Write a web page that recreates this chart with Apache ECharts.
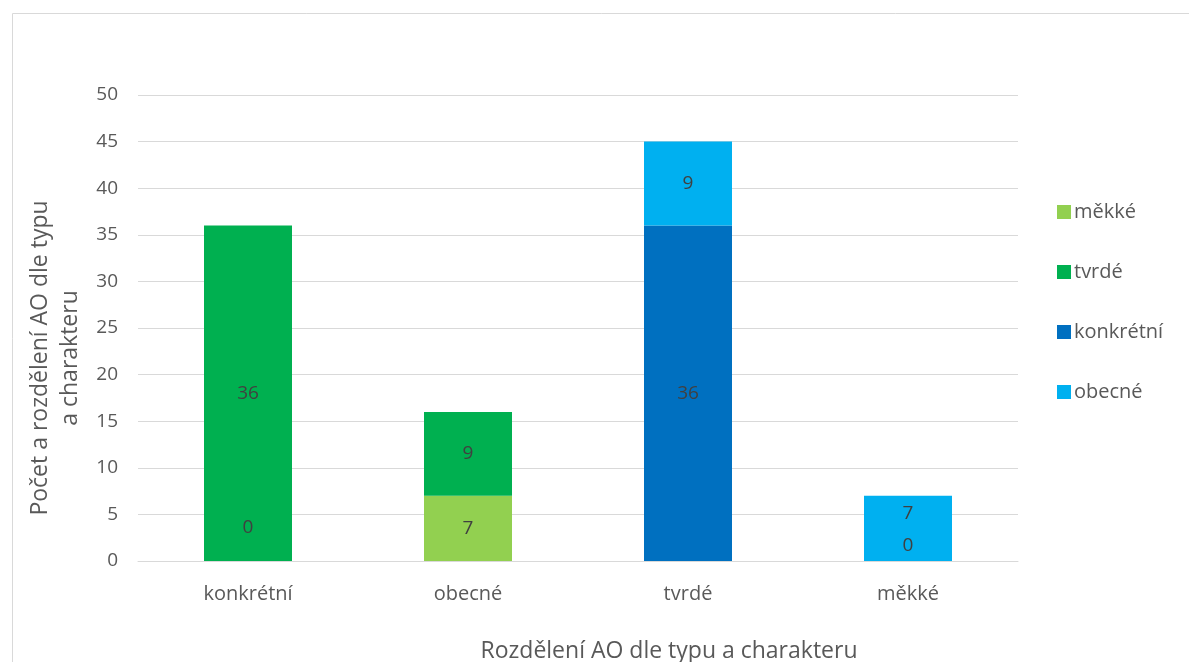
<!DOCTYPE html>
<html>
<head>
<meta charset="utf-8">
<script src="https://cdn.jsdelivr.net/npm/echarts@6/dist/echarts.min.js"></script>
<style>
  html, body { margin: 0; padding: 0; background: #fff; }
  #chart { width: 1189px; height: 662px; }
</style>
</head>
<body>
<div id="chart"></div>
<script>
// Categories on the x axis
const categories = ['konkrétní', 'obecné', 'tvrdé', 'měkké'];
// Stacked series values (null = no segment in that column)
const mekke = [0, 7, null, null];
const tvrde = [36, 9, null, null];
const konkretni = [null, null, 36, 0];
const obecne = [null, null, 9, 7];
// Value axis ticks
const yMin = 0, yMax = 50, yStep = 5;

const FONT = '"Open Sans", Lato, sans-serif';
const labelStyle = { show: true, position: 'inside', color: '#404040', fontSize: 19, fontFamily: FONT };

// Lift overlapping labels slightly so they stay readable
function withOffsets(values, offsets) {
  return values.map((v, i) => {
    if (v === null) return v;
    if (offsets[i]) return { value: v, label: { offset: [0, offsets[i]] } };
    return v;
  });
}

const series = [
  { name: 'měkké', color: '#92D050', data: withOffsets(mekke, [-33, 0, 0, 0]) },
  { name: 'tvrdé', color: '#00B050', data: tvrde },
  { name: 'konkrétní', color: '#0070C0', data: withOffsets(konkretni, [0, 0, 0, -15]) },
  { name: 'obecné', color: '#00B0F0', data: withOffsets(obecne, [0, 0, 0, -15]) }
].map(s => ({
  name: s.name,
  type: 'bar',
  stack: 'total',
  barWidth: '40%',
  itemStyle: { color: s.color },
  label: labelStyle,
  data: s.data
}));

const chart = echarts.init(document.getElementById('chart'));
chart.setOption({
  animation: false,
  textStyle: { fontFamily: FONT },
  graphic: [{
    type: 'rect',
    shape: { x: 12.5, y: 13.5, width: 1200, height: 700 },
    style: { fill: 'none', stroke: '#d9d9d9', lineWidth: 1 },
    silent: true
  }],
  title: {
    text: 'Rozdělení AO dle typu a charakteru',
    left: 664, top: 635, textAlign: 'center',
    textStyle: { fontSize: 23, fontWeight: 'normal', color: '#595959', fontFamily: FONT }
  },
  legend: {
    orient: 'vertical',
    left: 1052, top: 197,
    itemWidth: 14, itemHeight: 14, itemGap: 40,
    icon: 'rect',
    textStyle: { fontSize: 20, color: '#595959', fontFamily: FONT, padding: [0, 0, 0, -2] },
    data: ['měkké', 'tvrdé', 'konkrétní', 'obecné']
  },
  grid: { left: 138, right: 171, top: 95, bottom: 101 },
  xAxis: {
    type: 'category',
    data: categories,
    axisTick: { show: false },
    axisLine: { show: true, lineStyle: { color: '#d9d9d9' } },
    axisLabel: { color: '#595959', fontSize: 20, margin: 23 }
  },
  yAxis: {
    type: 'value',
    min: yMin, max: yMax, interval: yStep,
    name: 'Počet a rozdělení AO dle typu\na charakteru',
    nameLocation: 'middle',
    nameGap: 51,
    nameRotate: 90,
    nameTextStyle: { fontSize: 23, color: '#595959', lineHeight: 30, fontFamily: FONT, padding: [0, 60, 0, 0] },
    axisLine: { show: false },
    axisTick: { show: false },
    axisLabel: { color: '#595959', fontSize: 19, margin: 20 },
    splitLine: { lineStyle: { color: '#d9d9d9' } }
  },
  series: series
});
</script>
</body>
</html>
